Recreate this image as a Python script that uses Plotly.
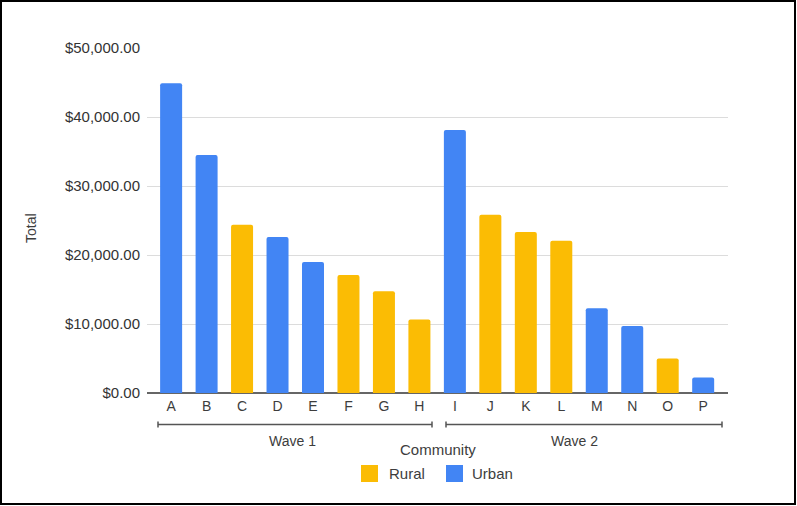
import plotly.graph_objects as go

categories = ["A", "B", "C", "D", "E", "F", "G", "H", "I", "J", "K", "L", "M", "N", "O", "P"]
totals = [44900, 34500, 24400, 22600, 19000, 17100, 14750, 10650,
          38100, 25850, 23350, 22050, 12300, 9700, 5000, 2250]
community = ["Urban", "Urban", "Rural", "Urban", "Urban", "Rural", "Rural", "Rural",
             "Urban", "Rural", "Rural", "Rural", "Urban", "Urban", "Rural", "Urban"]
waves = ["Wave 1", "Wave 2"]
wave_members = [categories[:8], categories[8:]]
y_ticks = [0, 10000, 20000, 30000, 40000, 50000]
groups = ["Rural", "Urban"]
colors = {"Rural": "#FBBC04", "Urban": "#4285F4"}

W, H = 797, 506
L, R, T, B = 147, 69, 48, 113
pw, ph = W - L - R, H - T - B

def px(x):
    return (x - L) / pw

def py(y):
    return (H - B - y) / ph

TXT = "#3d3d3d"
fig = go.Figure()
for grp in groups:
    xs = [c for c, g in zip(categories, community) if g == grp]
    ys = [v for v, g in zip(totals, community) if g == grp]
    fig.add_trace(go.Bar(x=xs, y=ys, name=grp, marker_color=colors[grp],
                         marker_line_width=0, width=0.62, showlegend=False))

font_fam = "Liberation Sans, Arial, sans-serif"
fig.update_layout(
    width=W, height=H,
    margin=dict(l=L, r=R, t=T, b=B, autoexpand=False),
    paper_bgcolor="white", plot_bgcolor="white",
    barmode="overlay", barcornerradius=2,
    font=dict(family=font_fam, size=14, color=TXT),
    showlegend=False,
)
fig.update_xaxes(
    type="category", categoryorder="array", categoryarray=categories,
    range=[-0.68, 15.7], showgrid=False, showline=False, ticks="",
    tickfont=dict(size=14, color=TXT), ticklabelstandoff=3,
)
fig.update_yaxes(
    range=[0, 50000], tickvals=y_ticks,
    ticktext=["${:,.2f}".format(v) for v in y_ticks],
    showgrid=True, gridcolor="#dcdcdc", gridwidth=1,
    zeroline=True, zerolinecolor="#666666", zerolinewidth=1.5,
    showline=False, ticks="", tickfont=dict(size=15, color="#333333"), ticklabelstandoff=6,
)

shapes = []
annotations = []
# y-axis title
annotations.append(dict(text="Total", xref="paper", yref="paper", x=px(31), y=py(228),
                        showarrow=False, xanchor="center", yanchor="middle", textangle=-90,
                        font=dict(size=14, color=TXT)))
# wave brackets
brackets = [(158, 432), (446, 722)]
label_x = [292, 574]
for (x0, x1), lbl, lx in zip(brackets, waves, label_x):
    shapes.append(dict(type="line", xref="paper", yref="paper", x0=px(x0), x1=px(x1),
                       y0=py(424.5), y1=py(424.5), line=dict(color="#555555", width=1.5)))
    for xe in (x0, x1):
        shapes.append(dict(type="line", xref="paper", yref="paper", x0=px(xe), x1=px(xe),
                           y0=py(421.5), y1=py(427.5), line=dict(color="#555555", width=1.5)))
    annotations.append(dict(text=lbl, xref="paper", yref="paper", x=px(lx), y=py(440.5),
                            showarrow=False, xanchor="center", yanchor="middle",
                            font=dict(size=14, color=TXT)))
annotations.append(dict(text="Community", xref="paper", yref="paper", x=px(438), y=py(449),
                        showarrow=False, xanchor="center", yanchor="middle",
                        font=dict(size=15, color=TXT)))
# legend (drawn)
legend_pos = {"Rural": (361, 387), "Urban": (446, 470)}
for grp in groups:
    sx, tx = legend_pos[grp]
    shapes.append(dict(type="rect", xref="paper", yref="paper", x0=px(sx), x1=px(sx + 17),
                       y0=py(465), y1=py(482), fillcolor=colors[grp], line=dict(width=0)))
    annotations.append(dict(text=grp, xref="paper", yref="paper", x=px(tx), y=py(473.5),
                            showarrow=False, xanchor="left", yanchor="middle",
                            font=dict(size=15, color=TXT)))
# outer frame
shapes.append(dict(type="rect", xref="paper", yref="paper", x0=px(1), x1=px(795),
                   y0=py(1), y1=py(504), line=dict(color="#000000", width=2)))
fig.update_layout(shapes=shapes, annotations=annotations)

fig.write_html("out.html", config={"displayModeBar": False},
               post_script="document.body.style.margin='0';document.body.style.overflow='hidden';")
